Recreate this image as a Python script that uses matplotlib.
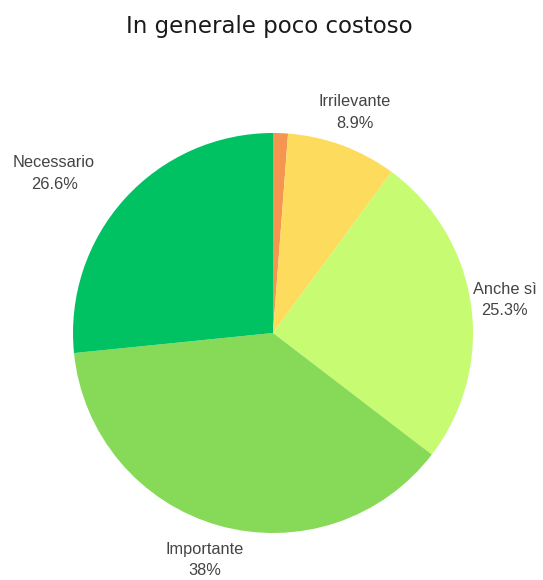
import matplotlib
matplotlib.use("Agg")
import matplotlib.pyplot as plt
import numpy as np

title = "In generale poco costoso"
categories = ["", "Irrilevante", "Anche sì", "Importante", "Necessario"]
values = [1.2, 8.9, 25.3, 38.0, 26.6]
pct_labels = ["", "8.9%", "25.3%", "38%", "26.6%"]
colors = ["#f59650", "#fddb5d", "#c6fb72", "#87d958", "#00c263"]

W, H, DPI = 543, 580, 100
fig = plt.figure(figsize=(W / DPI, H / DPI), dpi=DPI)
ax = fig.add_axes([0, 0, 1, 1])

cx, cy, R = 273, 333, 200  # pixel centre and radius
wedges, _ = ax.pie(values, colors=colors, startangle=90, counterclock=False,
                   radius=1.0, wedgeprops=dict(linewidth=0))
ax.set_aspect("auto")
ax.set_xlim((0 - cx) / R, (W - cx) / R)
ax.set_ylim((cy - H) / R, (cy - 0) / R)
ax.axis("off")

label_dist = [0, 1.175, 1.17, 1.185, 1.355]
angle_shift = [0, 0, 0, -1, 6]
for i, w in enumerate(wedges):
    if not categories[i]:
        continue
    th = np.deg2rad((w.theta1 + w.theta2) / 2 + angle_shift[i])
    d = label_dist[i]
    ax.text(d * np.cos(th), d * np.sin(th), f"{categories[i]}\n{pct_labels[i]}",
            ha="center", va="center", fontsize=11.8, color="#444444",
            family="Liberation Sans", linespacing=1.55)

fig.text(269 / W, 1 - 27 / H, title, ha="center", va="center", fontsize=16.5,
         family="DejaVu Sans", weight="normal", color="#1a1a1a")

fig.savefig("out.png", dpi=DPI, facecolor="white")
